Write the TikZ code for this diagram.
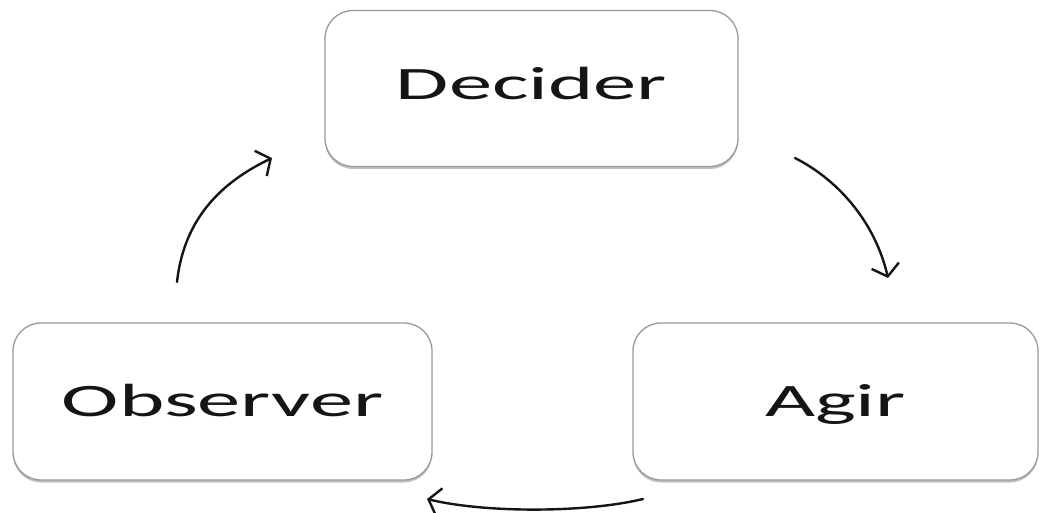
\documentclass[tikz,border=0pt]{standalone}
\usepackage{fontspec}
\setmainfont{Carlito}
\usetikzlibrary{arrows.meta,shadows}

\definecolor{boxline}{HTML}{9A9A9A}
\definecolor{ink}{HTML}{151515}

\newcommand{\wide}[1]{\scalebox{1.86}[1]{#1}}

\tikzset{
  stage/.style={
    draw=boxline, line width=1.3pt, fill=white,
    rounded corners=28pt, inner sep=0pt,
    font=\fontsize{46.5}{50}\selectfont, text=ink,
    drop shadow={shadow xshift=0pt, shadow yshift=-2.5pt,
                 fill=black!45, opacity=0.55}
  },
  flow/.style={
    draw=ink, line width=2.4pt, line cap=round,
    -{Straight Barb[length=11pt,width=28pt,line width=2.4pt]}
  }
}

\begin{document}
\begin{tikzpicture}[x=1pt,y=-1pt]
  \useasboundingbox (0,0) rectangle (1040,513);

  % the three stages of the loop
  \node[stage, minimum width=413pt, minimum height=156pt,
        text height=31pt, text depth=8pt] (dec) at (531.5,88.5) {\wide{Decider}};
  \node[stage, minimum width=419pt, minimum height=157pt,
        text height=34pt, text depth=4pt] (obs) at (222.5,401.5) {\wide{Observer}};
  \node[stage, minimum width=405pt, minimum height=157pt,
        text height=34pt, text depth=4pt] (act) at (835.5,401.5) {\wide{Agir}};

  % free ends of the curved connectors
  \coordinate (o1) at (177,282);
  \coordinate (o2) at (272,158);
  \coordinate (d1) at (795,158);
  \coordinate (d2) at (888,278);
  \coordinate (a1) at (643,499);
  \coordinate (a2) at (427,499);

  \draw[flow] (o1) .. controls (184,218) and (222,182) .. (o2);
  \draw[flow] (d1) .. controls (842,182) and (876,226) .. (d2);
  \draw[flow] (a1) .. controls (585,513) and (485,513) .. (a2);
\end{tikzpicture}
\end{document}
